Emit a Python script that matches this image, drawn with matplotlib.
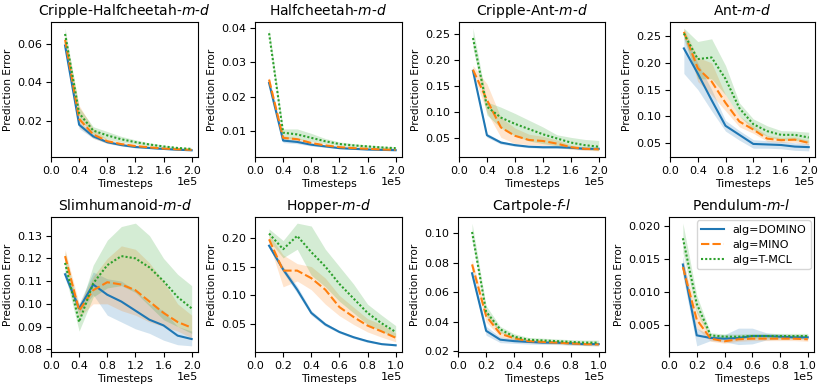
import matplotlib
matplotlib.use("Agg")
import matplotlib.pyplot as plt

# ----------------------------------------------------------------------
# data: mean, lower band, upper band per algorithm
# ----------------------------------------------------------------------
algs = ["DOMINO", "MINO", "T-MCL"]
colors = ["#1f77b4", "#ff7f0e", "#2ca02c"]
dashes = [(None, None), (4, 1.5), (1, 1)]

steps_long = [20000, 40000, 60000, 80000, 100000, 120000, 140000, 160000, 180000, 200000]
steps_short = [10000, 20000, 30000, 40000, 50000, 60000, 70000, 80000, 90000, 100000]

titles = ["Cripple-Halfcheetah-$m$-$d$", "Halfcheetah-$m$-$d$", "Cripple-Ant-$m$-$d$", "Ant-$m$-$d$",
          "Slimhumanoid-$m$-$d$", "Hopper-$m$-$d$", "Cartpole-$f$-$l$", "Pendulum-$m$-$l$"]

cripple_hc = {
    "DOMINO": ([0.059, 0.018, 0.012, 0.009, 0.0075, 0.0065, 0.006, 0.0055, 0.0051, 0.0048],
               [0.057, 0.016, 0.011, 0.0083, 0.007, 0.006, 0.0056, 0.0052, 0.0048, 0.0045],
               [0.061, 0.020, 0.013, 0.0097, 0.008, 0.007, 0.0064, 0.0058, 0.0054, 0.0051]),
    "MINO":   ([0.062, 0.021, 0.013, 0.0095, 0.008, 0.007, 0.0063, 0.0057, 0.0053, 0.005],
               [0.059, 0.017, 0.011, 0.0085, 0.0073, 0.0064, 0.0058, 0.0053, 0.005, 0.0047],
               [0.065, 0.028, 0.016, 0.0105, 0.0088, 0.0077, 0.0068, 0.0062, 0.0057, 0.0053]),
    "T-MCL":  ([0.065, 0.024, 0.015, 0.0125, 0.0105, 0.009, 0.0078, 0.0068, 0.006, 0.0055],
               [0.062, 0.021, 0.013, 0.0105, 0.009, 0.008, 0.007, 0.0062, 0.0056, 0.0051],
               [0.068, 0.027, 0.017, 0.0145, 0.012, 0.0102, 0.0086, 0.0074, 0.0065, 0.0059]),
}

halfcheetah = {
    "DOMINO": ([0.024, 0.0072, 0.0068, 0.006, 0.0055, 0.005, 0.0048, 0.0046, 0.0045, 0.0044],
               [0.0232, 0.0066, 0.0063, 0.0056, 0.0052, 0.0048, 0.0046, 0.0044, 0.0043, 0.0042],
               [0.0248, 0.0078, 0.0073, 0.0064, 0.0058, 0.0052, 0.005, 0.0048, 0.0047, 0.0046]),
    "MINO":   ([0.025, 0.008, 0.0076, 0.0065, 0.0058, 0.0053, 0.005, 0.0048, 0.0046, 0.0045],
               [0.0242, 0.0074, 0.0071, 0.0061, 0.0055, 0.0051, 0.0048, 0.0046, 0.0044, 0.0043],
               [0.0258, 0.0086, 0.0081, 0.0069, 0.0061, 0.0055, 0.0052, 0.005, 0.0048, 0.0047]),
    "T-MCL":  ([0.0385, 0.0095, 0.009, 0.008, 0.007, 0.0062, 0.0058, 0.0055, 0.0052, 0.005],
               [0.037, 0.0078, 0.0076, 0.007, 0.0063, 0.0057, 0.0054, 0.0051, 0.0049, 0.0047],
               [0.040, 0.0106, 0.0106, 0.0093, 0.0078, 0.0068, 0.0063, 0.0059, 0.0056, 0.0053]),
}

cripple_ant = {
    "DOMINO": ([0.18, 0.056, 0.042, 0.037, 0.034, 0.033, 0.033, 0.032, 0.030, 0.030],
               [0.175, 0.052, 0.039, 0.035, 0.032, 0.031, 0.031, 0.030, 0.028, 0.028],
               [0.185, 0.060, 0.045, 0.039, 0.036, 0.035, 0.035, 0.034, 0.032, 0.032]),
    "MINO":   ([0.182, 0.124, 0.071, 0.055, 0.047, 0.045, 0.040, 0.033, 0.030, 0.029],
               [0.175, 0.10, 0.052, 0.040, 0.038, 0.036, 0.034, 0.029, 0.027, 0.026],
               [0.19, 0.155, 0.09, 0.07, 0.058, 0.054, 0.047, 0.037, 0.033, 0.032]),
    "T-MCL":  ([0.243, 0.111, 0.09, 0.078, 0.068, 0.058, 0.05, 0.042, 0.037, 0.034],
               [0.225, 0.095, 0.07, 0.055, 0.045, 0.04, 0.036, 0.032, 0.029, 0.027],
               [0.262, 0.12, 0.11, 0.098, 0.085, 0.072, 0.057, 0.052, 0.048, 0.046]),
}

ant = {
    "DOMINO": ([0.227, 0.18, 0.13, 0.082, 0.065, 0.048, 0.047, 0.046, 0.043, 0.042],
               [0.18, 0.15, 0.11, 0.072, 0.055, 0.04, 0.04, 0.039, 0.036, 0.035],
               [0.255, 0.2, 0.15, 0.092, 0.073, 0.056, 0.054, 0.053, 0.05, 0.049]),
    "MINO":   ([0.258, 0.19, 0.165, 0.125, 0.09, 0.075, 0.058, 0.055, 0.056, 0.05],
               [0.25, 0.165, 0.14, 0.11, 0.08, 0.068, 0.053, 0.051, 0.051, 0.046],
               [0.265, 0.21, 0.2, 0.14, 0.1, 0.082, 0.064, 0.06, 0.061, 0.055]),
    "T-MCL":  ([0.255, 0.207, 0.21, 0.17, 0.115, 0.085, 0.072, 0.065, 0.065, 0.06],
               [0.245, 0.17, 0.17, 0.14, 0.1, 0.075, 0.062, 0.055, 0.055, 0.05],
               [0.265, 0.24, 0.245, 0.195, 0.125, 0.095, 0.082, 0.073, 0.072, 0.07]),
}

slimhumanoid = {
    "DOMINO": ([0.113, 0.098, 0.1085, 0.104, 0.101, 0.097, 0.093, 0.0905, 0.086, 0.0845],
               [0.111, 0.096, 0.104, 0.095, 0.092, 0.089, 0.087, 0.084, 0.082, 0.0815],
               [0.115, 0.1, 0.114, 0.111, 0.110, 0.106, 0.100, 0.097, 0.090, 0.088]),
    "MINO":   ([0.121, 0.097, 0.106, 0.1095, 0.1085, 0.106, 0.101, 0.096, 0.092, 0.0895],
               [0.117, 0.094, 0.1, 0.1, 0.097, 0.095, 0.092, 0.09, 0.088, 0.085],
               [0.124, 0.1, 0.112, 0.12, 0.1255, 0.124, 0.118, 0.11, 0.1, 0.095]),
    "T-MCL":  ([0.118, 0.092, 0.109, 0.117, 0.121, 0.12, 0.116, 0.11, 0.103, 0.098],
               [0.113, 0.088, 0.103, 0.107, 0.108, 0.105, 0.099, 0.093, 0.09, 0.087],
               [0.123, 0.097, 0.117, 0.128, 0.134, 0.1355, 0.13, 0.12, 0.113, 0.108]),
}

hopper = {
    "DOMINO": ([0.186, 0.145, 0.11, 0.07, 0.05, 0.037, 0.028, 0.021, 0.016, 0.014],
               [0.182, 0.14, 0.104, 0.066, 0.047, 0.035, 0.026, 0.019, 0.015, 0.013],
               [0.19, 0.15, 0.116, 0.074, 0.053, 0.039, 0.03, 0.023, 0.017, 0.015]),
    "MINO":   ([0.197, 0.143, 0.143, 0.13, 0.11, 0.08, 0.063, 0.048, 0.038, 0.027],
               [0.19, 0.115, 0.125, 0.11, 0.085, 0.065, 0.05, 0.037, 0.028, 0.02],
               [0.205, 0.17, 0.155, 0.15, 0.13, 0.1, 0.08, 0.06, 0.05, 0.035]),
    "T-MCL":  ([0.207, 0.18, 0.203, 0.175, 0.15, 0.12, 0.095, 0.07, 0.052, 0.037],
               [0.195, 0.165, 0.18, 0.135, 0.115, 0.09, 0.07, 0.05, 0.038, 0.028],
               [0.215, 0.195, 0.225, 0.22, 0.18, 0.15, 0.12, 0.085, 0.066, 0.048]),
}

cartpole = {
    "DOMINO": ([0.073, 0.034, 0.028, 0.027, 0.0265, 0.026, 0.026, 0.0255, 0.025, 0.025],
               [0.070, 0.031, 0.026, 0.0255, 0.025, 0.0248, 0.0247, 0.0243, 0.024, 0.0238],
               [0.076, 0.037, 0.030, 0.0285, 0.028, 0.0272, 0.0272, 0.0267, 0.026, 0.0262]),
    "MINO":   ([0.079, 0.044, 0.032, 0.029, 0.027, 0.0265, 0.026, 0.0255, 0.025, 0.0248],
               [0.076, 0.040, 0.030, 0.0275, 0.026, 0.0255, 0.025, 0.0245, 0.024, 0.0238],
               [0.082, 0.048, 0.034, 0.0305, 0.028, 0.0275, 0.027, 0.0265, 0.026, 0.0258]),
    "T-MCL":  ([0.101, 0.047, 0.035, 0.03, 0.028, 0.0275, 0.027, 0.0265, 0.026, 0.026],
               [0.096, 0.044, 0.033, 0.028, 0.0265, 0.026, 0.0255, 0.025, 0.0245, 0.0245],
               [0.107, 0.051, 0.037, 0.032, 0.0295, 0.029, 0.0285, 0.028, 0.0277, 0.0277]),
}

pendulum = {
    "DOMINO": ([0.0142, 0.0034, 0.003, 0.0029, 0.003, 0.0033, 0.0033, 0.0032, 0.0031, 0.0031],
               [0.0125, 0.0018, 0.0026, 0.0024, 0.002, 0.0021, 0.0027, 0.0028, 0.0028, 0.0028],
               [0.0155, 0.0045, 0.0034, 0.0035, 0.0045, 0.0045, 0.0038, 0.0036, 0.0035, 0.0035]),
    "MINO":   ([0.0138, 0.0058, 0.0029, 0.0025, 0.0028, 0.0029, 0.0029, 0.0029, 0.0029, 0.0028],
               [0.0128, 0.0045, 0.0025, 0.0022, 0.0025, 0.0026, 0.0026, 0.0026, 0.0026, 0.0025],
               [0.0148, 0.0072, 0.0033, 0.0029, 0.0031, 0.0032, 0.0032, 0.0032, 0.0032, 0.0031]),
    "T-MCL":  ([0.0182, 0.0082, 0.0034, 0.0032, 0.0032, 0.0033, 0.0033, 0.0033, 0.0033, 0.0033],
               [0.016, 0.0068, 0.003, 0.0029, 0.0029, 0.003, 0.003, 0.003, 0.003, 0.003],
               [0.0205, 0.0095, 0.0038, 0.0036, 0.0036, 0.0037, 0.0037, 0.0037, 0.0037, 0.0037]),
}

panels = [cripple_hc, halfcheetah, cripple_ant, ant, slimhumanoid, hopper, cartpole, pendulum]
panel_steps = [steps_long] * 5 + [steps_short] * 3

# tick positions per panel
yticks = [
    [0.02, 0.04, 0.06],
    [0.01, 0.02, 0.03, 0.04],
    [0.05, 0.10, 0.15, 0.20, 0.25],
    [0.05, 0.10, 0.15, 0.20, 0.25],
    [0.08, 0.09, 0.10, 0.11, 0.12, 0.13],
    [0.05, 0.10, 0.15, 0.20],
    [0.02, 0.04, 0.06, 0.08, 0.10],
    [0.005, 0.010, 0.015, 0.020],
]
xticks_long = [0, 40000, 80000, 120000, 160000, 200000]
xticks_short = [0, 20000, 40000, 60000, 80000, 100000]

# ----------------------------------------------------------------------
# figure
# ----------------------------------------------------------------------
W, H = 822, 389
fig = plt.figure(figsize=(W / 100, H / 100), dpi=100)

lefts = [51, 255, 459, 670, 51, 255, 458, 669]
rights = [198, 402, 605, 815, 198, 402, 605, 814]
tops = [22] * 4 + [217] * 4
bottoms = [157] * 4 + [352] * 4

for i, data in enumerate(panels):
    ax = fig.add_axes([lefts[i] / W, 1 - bottoms[i] / H,
                       (rights[i] - lefts[i]) / W, (bottoms[i] - tops[i]) / H])
    x = panel_steps[i]
    for alg, color, dash in zip(algs, colors, dashes):
        mean, lo, hi = data[alg]
        ax.fill_between(x, lo, hi, color=color, alpha=0.2, linewidth=0)
        line, = ax.plot(x, mean, color=color, linewidth=1.5, label="alg=" + alg)
        if dash[0] is not None:
            line.set_dashes(dash)
    ax.set_xlim(left=0)
    ax.set_xticks(xticks_long if i < 5 else xticks_short)
    ax.set_yticks(yticks[i])
    ax.ticklabel_format(style="sci", axis="x", scilimits=(0, 0))
    ax.xaxis.OFFSETTEXTPAD = 0.5
    ax.xaxis.get_offset_text().set_fontsize(8.1)
    ax.tick_params(labelsize=8.1, length=3.5, width=0.8, pad=3)
    for sp in ax.spines.values():
        sp.set_linewidth(0.8)
    ax.set_title(titles[i], fontsize=10, pad=5)
    ax.set_xlabel("Timesteps", fontsize=7.8, labelpad=2)
    ax.set_ylabel("Prediction Error", fontsize=7.6, labelpad=3)
    if i == 7:
        ax.legend(loc="upper right", fontsize=8, handlelength=2,
                  borderaxespad=0.3, labelspacing=0.45)

plt.savefig("out.png", dpi=100)
